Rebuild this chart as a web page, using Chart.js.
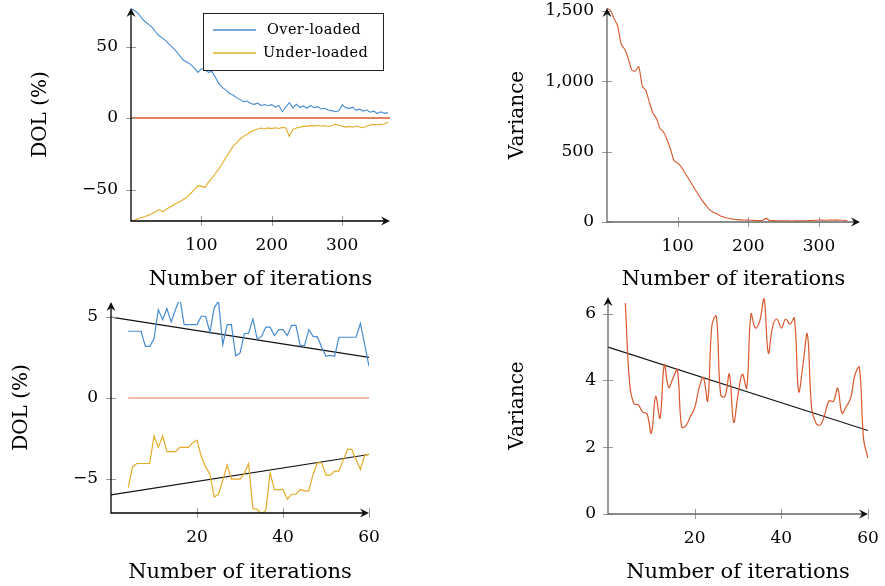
<!DOCTYPE html>
<html>
<head>
<meta charset="utf-8">
<script src="https://cdn.jsdelivr.net/npm/chart.js@4.4.1/dist/chart.umd.min.js"></script>
<style>
  body { margin: 0; background: #fff; width: 885px; height: 586px; overflow: hidden; }
  canvas { position: absolute; left: 0; top: 0; }
</style>
</head>
<body>
<canvas id="dolLong" width="885" height="586"></canvas>
<canvas id="varLong" width="885" height="586"></canvas>
<canvas id="dolShort" width="885" height="586"></canvas>
<canvas id="varShort" width="885" height="586"></canvas>
<script>
"use strict"

// ---- data: long run (every 5th iteration) ----
const itersLong = [0,5,10,15,20,25,30,35,40,45,50,55,60,65,70,75,80,85,90,95,
    100,105,110,115,120,125,130,135,140,145,150,155,160,165,170,175,180,185,190,195,
    200,205,210,215,220,225,230,235,240,245,250,255,260,265,270,275,280,285,290,295,
    300,305,310,315,320,325,330,335,340,345,350,355,360,365];
const overLong = [76.5,75.2,73.3,70.1,67.4,65.5,63.4,60.2,57.6,55.9,
    53.8,51.2,48.9,46.4,43.1,40.2,39.0,37.4,34.9,32.0,
    34.5,34.1,32.0,32.6,28.4,24.1,21.3,19.6,17.2,16.1,
    14.3,12.9,11.5,11.9,10.2,9.6,10.4,8.8,9.5,8.6,
    9.4,7.7,8.9,4.4,7.9,10.8,7.2,9.6,7.4,8.5,
    6.9,8.8,7.3,8.0,6.4,6.9,5.6,5.2,4.6,5.0,
    9.2,7.3,6.8,7.6,5.4,6.2,4.9,5.6,4.1,4.8,
    3.2,4.4,3.3,3.8];
const underLong = [-72.3,-71.5,-70.4,-69.6,-68.8,-67.9,-66.8,-65.5,-64.0,-65.6,
    -63.8,-62.4,-61.0,-59.4,-58.4,-56.8,-55.0,-52.6,-50.1,-47.4,
    -47.6,-48.6,-45.0,-42.0,-38.8,-35.4,-31.6,-27.4,-23.8,-19.7,
    -17.4,-14.6,-12.8,-11.3,-9.6,-8.5,-7.6,-7.0,-7.6,-6.9,
    -7.4,-6.8,-7.3,-6.5,-6.9,-12.8,-7.9,-7.0,-6.4,-5.8,
    -5.6,-5.3,-5.6,-5.2,-5.5,-5.4,-5.9,-5.6,-4.4,-5.0,
    -5.7,-6.3,-5.8,-6.4,-5.6,-6.2,-6.8,-5.7,-4.9,-4.4,
    -4.7,-4.4,-4.1,-2.8];
const zeroLongX = [0, 368];
const zeroLongY = [0, 0];

const itersVar = [0,5,10,15,20,25,30,35,40,45,50,55,60,65,70,75,80,85,90,95,
    100,105,110,115,120,125,130,135,140,145,150,155,160,165,170,175,180,185,190,195,
    200,205,210,215,220,225,230,235,240,245,250,255,260,265,270,275,280,285,290,295,
    300,305,310,315,320,325,330,335,340];
const varianceLong = [1520,1505,1445,1395,1265,1228,1164,1080,1072,1104,
    965,935,850,775,735,665,640,585,515,435,
    420,392,352,312,270,228,190,150,118,88,
    70,60,45,36,28,23,20,17,15,14,
    13,12,11,10,12,26,11,10,9,8,
    9,8,7,8,8,9,8,10,11,12,
    14,13,12,13,14,13,14,12,10];

// ---- data: short run (iterations 4..60) ----
const itersShort = [4,5,6,7,8,9,10,11,12,13,14,15,16,17,18,19,20,21,22,23,24,25,26,27,28,29,30,31,32,
    33,34,35,36,37,38,39,40,41,42,43,44,45,46,47,48,49,50,51,52,53,54,55,56,57,58,59,60];
const overShort = [4.12,4.12,4.12,4.12,3.19,3.19,3.64,5.46,4.84,5.53,
    4.7,5.45,6.19,4.53,4.53,4.53,4.53,5.05,5.05,4.06,
    5.57,5.98,3.29,4.53,4.53,2.6,2.77,3.97,4.0,4.89,
    3.64,3.8,4.37,4.37,3.85,4.22,4.22,3.85,4.49,4.49,
    3.23,3.23,4.22,3.8,3.77,3.13,2.57,2.63,2.57,3.75,
    3.75,3.75,3.75,3.75,4.6,3.3,1.95];
const underShort = [-5.55,-4.27,-4.06,-4.06,-4.06,-4.06,-2.36,-3.06,-2.36,-3.33,
    -3.33,-3.33,-3.06,-3.06,-3.06,-2.77,-2.61,-3.64,-4.27,-4.72,
    -6.13,-5.96,-5.1,-4.16,-5.03,-5.03,-5.03,-4.68,-4.06,-6.85,
    -6.89,-7.16,-6.96,-4.64,-5.67,-5.67,-5.67,-6.27,-5.96,-5.96,
    -5.67,-5.75,-5.75,-4.72,-4.02,-4.02,-4.78,-4.78,-4.53,-4.53,
    -3.85,-3.19,-3.19,-3.81,-4.43,-3.54,-3.48];
const varianceShort = [6.32,3.9,3.3,3.27,3.05,3.0,2.42,3.52,2.87,4.47,
    3.79,4.07,4.32,2.6,2.65,2.92,3.17,3.77,4.09,3.39,
    5.67,5.92,3.57,3.52,4.19,2.75,3.57,4.19,3.77,5.99,
    5.57,5.77,6.45,4.82,5.62,5.84,5.57,5.84,5.69,5.87,
    3.67,4.47,5.39,3.17,2.72,2.67,2.97,3.39,3.37,3.77,
    3.02,3.22,3.47,4.17,4.39,2.22,1.67];
const zeroShortX = [4, 60];
const zeroShortY = [0, 0];
const trendX = [0, 60];
const trendOver = [5, 2.5];
const trendUnder = [-6, -3.5];
const trendVar = [5, 2.5];

const ticksLongX = [100, 200, 300];
const ticksShortX = [20, 40, 60];
const ticksDol = [-50, 0, 50];
const ticksVarLong = [0, 500, 1000, 1500];
const ticksDolShort = [-5, 0, 5];
const ticksVarShort = [0, 2, 4, 6];

const BLUE = "rgb(70,140,208)";
const YELLOW = "rgb(228,172,40)";
const RED = "rgb(218,88,45)";

Chart.defaults.font.family = "'DejaVu Serif', serif";
Chart.defaults.color = "#000";
Chart.defaults.animation = false;

function pts(xs, ys) {
    return xs.map((x, i) => ({x: x, y: ys[i]}));
}

function fmt(v) {
    const s = Math.abs(v).toLocaleString("en-US");
    return v < 0 ? "\u2212" + s : s;
}

function arrowHead(ctx, x, y, dir) {
    ctx.save();
    ctx.translate(x, y);
    if (dir === "up") ctx.rotate(-Math.PI / 2);
    ctx.beginPath();
    ctx.moveTo(0, 0);
    ctx.lineTo(-9, -4.5);
    ctx.lineTo(-6, 0);
    ctx.lineTo(-9, 4.5);
    ctx.closePath();
    ctx.fill();
    ctx.restore();
}

// axis lines, crossing tick marks and arrow tips like the pgfplots look
const axesPlugin = {
    id: "axesPlugin",
    afterDraw(chart, args, opts) {
        const {ctx, chartArea: a, scales: {x, y}} = chart;
        ctx.save();
        ctx.strokeStyle = "#999";
        ctx.lineWidth = 1;
        ctx.beginPath();
        x.ticks.forEach(t => {
            const px = Math.round(x.getPixelForValue(t.value)) + 0.5;
            ctx.moveTo(px, a.bottom - 5);
            ctx.lineTo(px, a.bottom + 5);
        });
        y.ticks.forEach(t => {
            const py = Math.round(y.getPixelForValue(t.value)) + 0.5;
            ctx.moveTo(a.left - 5, py);
            ctx.lineTo(a.left + 5, py);
        });
        ctx.stroke();
        ctx.strokeStyle = opts.axisColor || "#000";
        ctx.lineWidth = 1.3;
        ctx.beginPath();
        ctx.moveTo(a.left, a.top + 3);
        ctx.lineTo(a.left, a.bottom);
        ctx.lineTo(a.right - 3, a.bottom);
        ctx.stroke();
        ctx.fillStyle = "#111";
        arrowHead(ctx, a.left, a.top, "up");
        arrowHead(ctx, a.right, a.bottom, "right");
        ctx.restore();
    }
};

const legendPlugin = {
    id: "boxLegend",
    afterDatasetsDraw(chart, args, opts) {
        if (!opts.box) return;
        const ctx = chart.ctx;
        const b = opts.box;
        ctx.save();
        ctx.fillStyle = "#fff";
        ctx.fillRect(b.x, b.y, b.w, b.h);
        ctx.strokeStyle = "#222";
        ctx.lineWidth = 1;
        ctx.strokeRect(b.x + 0.5, b.y + 0.5, b.w, b.h);
        ctx.font = "14.5px 'DejaVu Serif', serif";
        ctx.letterSpacing = "0.4px";
        ctx.textBaseline = "middle";
        ctx.fillStyle = "#000";
        chart.data.datasets.filter(d => d.legend).forEach((d, i) => {
            const cy = b.y + 17 + i * 23;
            ctx.strokeStyle = d.borderColor;
            ctx.lineWidth = 1.6;
            ctx.beginPath();
            ctx.moveTo(b.x + 10, cy);
            ctx.lineTo(b.x + 53, cy);
            ctx.stroke();
            ctx.fillText(d.label, b.x + opts.textX[i], cy);
        });
        ctx.restore();
    }
};

function makeChart(id, cfg) {
    const a = cfg.area;
    const xLH = 25, yLH = 24;
    const scaleLeft = cfg.yTitleX - yLH / 2;
    const xBottom = cfg.xTitleY + xLH / 2;
    return new Chart(document.querySelector(id), {
        type: "line",
        data: {datasets: cfg.datasets},
        plugins: [legendPlugin, axesPlugin],
        options: {
            responsive: false,
            layout: {padding: {left: scaleLeft, top: a.top, right: 885 - a.right, bottom: 586 - xBottom}},
            elements: {point: {radius: 0}},
            plugins: {
                legend: {display: false},
                tooltip: {enabled: false},
                axesPlugin: {axisColor: cfg.axisColor},
                boxLegend: cfg.legend || {}
            },
            scales: {
                x: {
                    type: "linear",
                    min: cfg.xMin, max: cfg.xMax,
                    grid: {display: false, drawTicks: false},
                    border: {display: false},
                    afterBuildTicks: s => { s.ticks = cfg.xTicks.map(v => ({value: v})); },
                    afterFit: s => { s.height = xBottom - a.bottom; s.paddingLeft = 0; s.paddingRight = 0; },
                    ticks: {font: {size: 17}, padding: 14, maxRotation: 0, callback: v => fmt(v)},
                    title: {display: true, text: "Number of iterations", font: {size: 21, lineHeight: xLH / 21}, padding: 0}
                },
                y: {
                    type: "linear",
                    min: cfg.yMin, max: cfg.yMax,
                    grid: {display: false, drawTicks: false},
                    border: {display: false},
                    afterBuildTicks: s => { s.ticks = cfg.yTicks.map(v => ({value: v})); },
                    afterFit: s => { s.width = a.left - scaleLeft; s.paddingTop = 0; s.paddingBottom = 0; },
                    ticks: {font: {size: 17}, padding: cfg.yPad, callback: v => fmt(v)},
                    title: {display: true, text: cfg.yTitle, font: {size: 20, lineHeight: yLH / 20}, padding: 0}
                }
            }
        }
    });
}

makeChart("#dolLong", {
    area: {left: 131, top: 8, right: 390, bottom: 221},
    xMin: 0, xMax: 368, yMin: -72, yMax: 77,
    xTicks: ticksLongX, yTicks: ticksDol, yPad: 13,
    yTitle: "DOL (%)", yTitleX: 41, xTitleY: 280, axisColor: "#000",
    legend: {box: {x: 203, y: 13, w: 180, h: 57}, textX: [64, 60]},
    datasets: [
        {label: "Over-loaded", legend: true, data: pts(itersLong, overLong), borderColor: BLUE, borderWidth: 1.1, tension: 0},
        {label: "Under-loaded", legend: true, data: pts(itersLong, underLong), borderColor: YELLOW, borderWidth: 1.1, tension: 0},
        {label: "zero", data: pts(zeroLongX, zeroLongY), borderColor: RED, borderWidth: 1.5}
    ]
});

makeChart("#varLong", {
    area: {left: 607, top: 8, right: 860, bottom: 222},
    xMin: 0, xMax: 358, yMin: 0, yMax: 1521,
    xTicks: ticksLongX, yTicks: ticksVarLong, yPad: 13,
    yTitle: "Variance", yTitleX: 518, xTitleY: 280, axisColor: "#666",
    datasets: [
        {label: "Variance", data: pts(itersVar, varianceLong), borderColor: RED, borderWidth: 1.1, tension: 0.2}
    ]
});

makeChart("#dolShort", {
    area: {left: 111, top: 302, right: 369, bottom: 513},
    xMin: 0, xMax: 60, yMin: -7.12, yMax: 5.93,
    xTicks: ticksShortX, yTicks: ticksDolShort, yPad: 13,
    yTitle: "DOL (%)", yTitleX: 22, xTitleY: 573, axisColor: "#000",
    datasets: [
        {label: "Over-loaded", data: pts(itersShort, overShort), borderColor: BLUE, borderWidth: 1.2, tension: 0},
        {label: "Under-loaded", data: pts(itersShort, underShort), borderColor: YELLOW, borderWidth: 1.2, tension: 0},
        {label: "zero", data: pts(zeroShortX, zeroShortY), borderColor: "rgba(218,88,45,0.55)", borderWidth: 1.5},
        {label: "trend over", data: pts(trendX, trendOver), borderColor: "#111", borderWidth: 1.2},
        {label: "trend under", data: pts(trendX, trendUnder), borderColor: "#111", borderWidth: 1.2}
    ]
});

makeChart("#varShort", {
    area: {left: 608, top: 297, right: 868, bottom: 514},
    xMin: 0, xMax: 60, yMin: 0, yMax: 6.5,
    xTicks: ticksShortX, yTicks: ticksVarShort, yPad: 12,
    yTitle: "Variance", yTitleX: 518, xTitleY: 573, axisColor: "#666",
    datasets: [
        {label: "Variance", data: pts(itersShort, varianceShort), borderColor: RED, borderWidth: 1.2, tension: 0.4},
        {label: "trend", data: pts(trendX, trendVar), borderColor: "#111", borderWidth: 1.2}
    ]
});
</script>
</body>
</html>
